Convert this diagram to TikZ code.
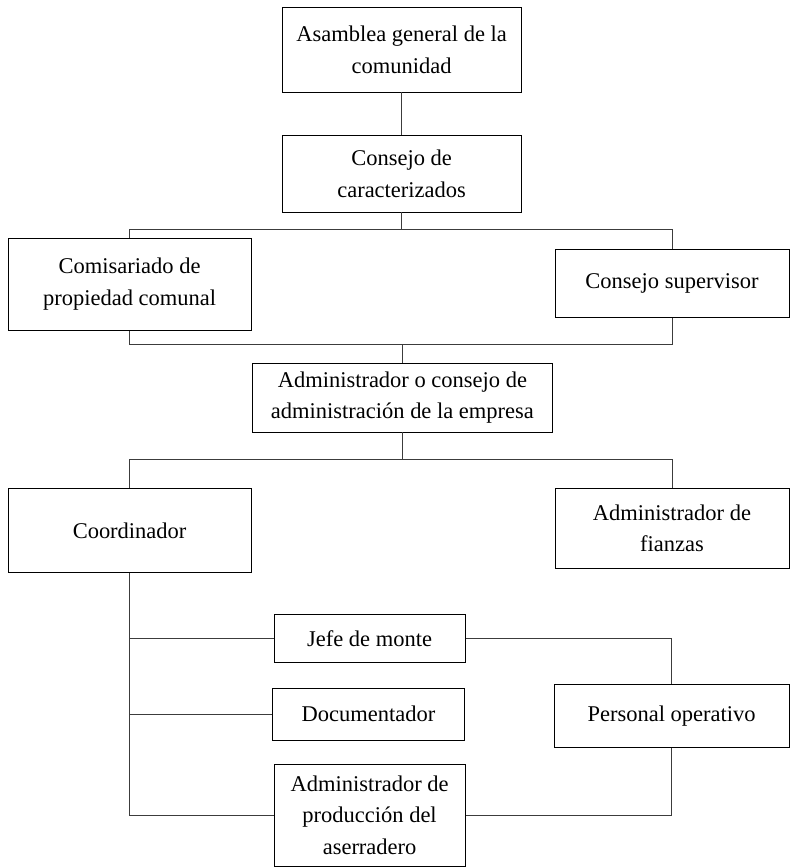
\documentclass[tikz,border=0pt]{standalone}
\usepackage{fontspec}
\setmainfont{Liberation Serif}
\usepackage{tikz}
\definecolor{linegray}{RGB}{60, 60, 60}
\usetikzlibrary{positioning, calc}

\begin{document}
\begin{tikzpicture}[
    box/.style={rectangle, draw=black, line width=0.6pt, inner sep=0pt, align=center, font=\fontsize{16}{22.5}\selectfont},
    link/.style={draw=linegray, line width=0.6pt}
]
    \useasboundingbox (0,0) rectangle (19.75,-21.7);

    % Upper levels
    \node[box, minimum width=5.98cm, minimum height=2.12cm] (asamblea) at (10.04,-1.24) {Asamblea general de la\\comunidad};
    \node[box, minimum width=5.98cm, minimum height=1.92cm] (consejo) at (10.04,-4.34) {Consejo de\\caracterizados};

    \node[box, minimum width=6.08cm, minimum height=2.32cm] (comisariado) at (3.24,-7.11) {Comisariado de\\propiedad comunal};
    \node[box, minimum width=5.85cm, minimum height=1.70cm] (supervisor) at (16.8,-7.08) {Consejo supervisor};

    \node[box, minimum width=7.52cm, minimum height=1.72cm] (admin) at (10.06,-9.94) {Administrador o consejo de\\administración de la empresa};

    % Company levels
    \node[box, minimum width=6.08cm, minimum height=2.12cm] (coordinador) at (3.24,-13.26) {Coordinador};
    \node[box, minimum width=5.85cm, minimum height=2.02cm] (fianzas) at (16.8,-13.21) {Administrador de\\fianzas};

    \node[box, minimum width=4.78cm, minimum height=1.18cm] (jefe) at (9.24,-15.96) {Jefe de monte};
    \node[box, minimum width=4.78cm, minimum height=1.30cm] (documentador) at (9.21,-17.85) {Documentador};
    \node[box, minimum width=4.78cm, minimum height=2.55cm] (produccion) at (9.24,-20.38) {Administrador de\\producción del\\aserradero};

    \node[box, minimum width=5.88cm, minimum height=1.58cm] (personal) at (16.79,-17.89) {Personal operativo};

    % Connectors
    \draw[link] (asamblea.south) -- (consejo.south |- consejo.north);
    \draw[link] (consejo.south) -- ++(0,-0.425) coordinate (busa);
    \draw[link] (comisariado.north) |- (busa) -| (supervisor.north);

    \draw[link] (admin.north) -- ++(0,0.45) coordinate (busb);
    \draw[link] (comisariado.south) |- (busb) -| (supervisor.south);

    \draw[link] (admin.south) -- ++(0,-0.675) coordinate (busc);
    \draw[link] (coordinador.north) |- (busc) -| (fianzas.north);

    \draw[link] (coordinador.south) |- (produccion.west);
    \draw[link] (jefe.west) -- (jefe.west -| coordinador.south);
    \draw[link] (documentador.west) -- (documentador.west -| coordinador.south);

    \draw[link] (jefe.east) -| (personal.north);
    \draw[link] (produccion.east) -| (personal.south);
\end{tikzpicture}
\end{document}
